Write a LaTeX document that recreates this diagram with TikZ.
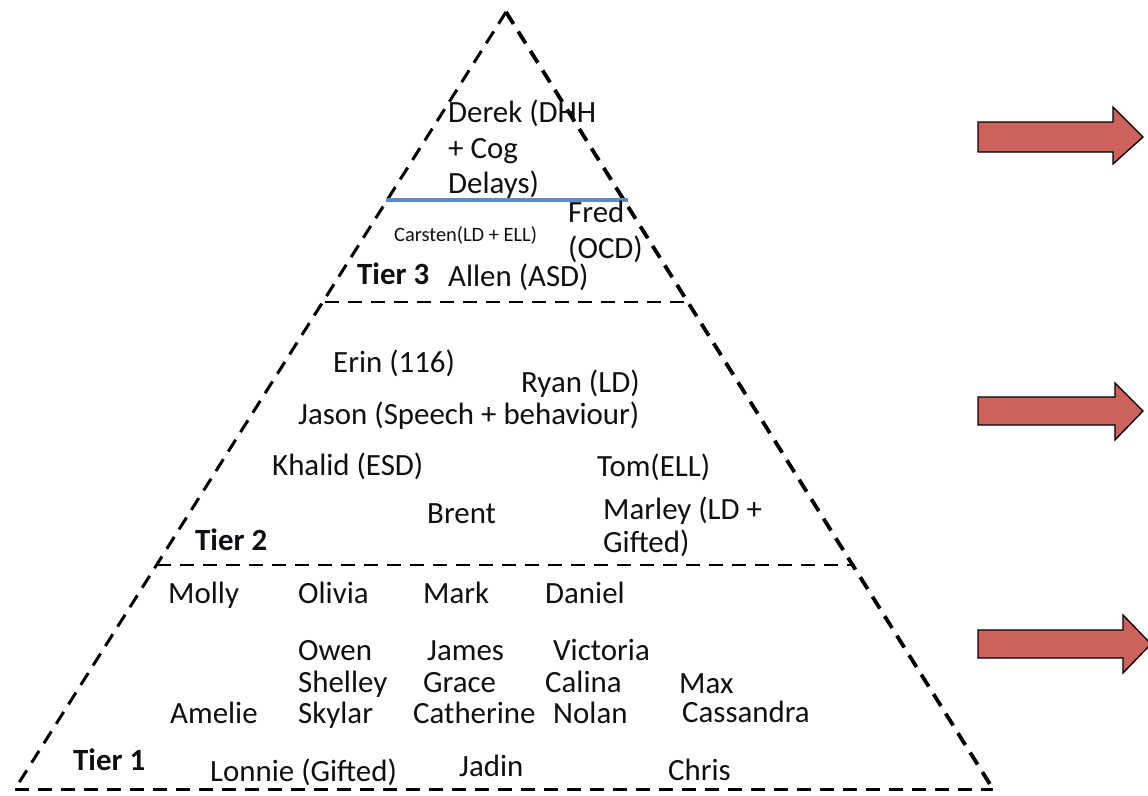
\documentclass[tikz,border=0pt]{standalone}
\usepackage{fontspec}
\setmainfont{Carlito}
\definecolor{arrowred}{RGB}{205,98,92}
\definecolor{splitblue}{RGB}{91,141,196}
\definecolor{ink}{RGB}{15,15,20}
\begin{document}
\begin{tikzpicture}[x=1bp,y=-1bp,
  pupil/.style={anchor=base west,inner sep=0pt,text=ink,font=\fontsize{31}{37}\selectfont},
  pupilsmall/.style={anchor=base west,inner sep=0pt,text=ink,font=\fontsize{20.5}{24}\selectfont},
  tierlabel/.style={anchor=base west,inner sep=0pt,text=ink,font=\fontsize{31}{37}\selectfont\bfseries},
  pyredge/.style={line width=3bp,dash pattern=on 14bp off 9bp},
  redarrow/.style={fill=arrowred,draw=black,line width=1.3bp,line join=miter}]
\useasboundingbox (0,0) rectangle (1148,796);
\clip (0,0) rectangle (1148,796);

% pyramid outline and tier dividers
\coordinate (apex) at (506,12);
\coordinate (bl) at (15,789);
\coordinate (br) at (993,789);
\draw[pyredge] (apex) -- (bl);
\draw[pyredge,line width=3.8bp] (apex) -- (br);
\draw[pyredge] (bl) -- (br);
\coordinate (t3l) at (325,302);
\coordinate (t3r) at (688,302);
\draw[pyredge,line width=2.8bp] (t3l) -- (t3r);
\coordinate (t2l) at (157,565);
\coordinate (t2r) at (855,565);
\draw[pyredge,line width=2.8bp] (t2l) -- (t2r);
\coordinate (bll) at (386,200);
\coordinate (blr) at (628,200);
\draw[splitblue,line width=3.2bp] (bll) -- (blr);

% arrows on the right
\draw[redarrow] (978,122) -- (1113,122) -- (1113,107) -- (1143,137) -- (1113,164) -- (1113,152) -- (978,152) -- cycle;
\draw[redarrow] (978,397) -- (1115,397) -- (1115,383) -- (1143,411) -- (1115,440) -- (1115,425) -- (978,425) -- cycle;
\draw[redarrow] (978,630) -- (1123,630) -- (1123,615) -- (1151,644) -- (1123,673) -- (1123,658) -- (978,658) -- cycle;

% Tier 3
\node[pupil] (derek1) at (448,122) {Derek (DHH};
\node[pupil] (derek2) at (448,158) {+ Cog};
\node[pupil] (derek3) at (448,193) {Delays)};
\node[pupil] (fred1) at (568,222) {Fred};
\node[pupil] (fred2) at (568,258) {(OCD)};
\node[pupilsmall] (carsten) at (394,241) {Carsten(LD + ELL)};
\node[tierlabel] (tier3) at (357,284) {Tier 3};
\node[pupil] (allen) at (448,286) {Allen (ASD)};

% Tier 2
\node[pupil] (erin) at (333,372) {Erin (116)};
\node[pupil] (ryan) at (521,392) {Ryan (LD)};
\node[pupil] (jason) at (298,424) {Jason (Speech + behaviour)};
\node[pupil] (khalid) at (272,475) {Khalid (ESD)};
\node[pupil] (tom) at (597,476) {Tom(ELL)};
\node[pupil] (brent) at (427,523) {Brent};
\node[pupil] (marley1) at (603,519) {Marley (LD +};
\node[pupil] (marley2) at (603,552) {Gifted)};
\node[tierlabel] (tier2) at (195,550) {Tier 2};

% Tier 1
\node[pupil] (molly) at (168,603) {Molly};
\node[pupil] (olivia) at (298,603) {Olivia};
\node[pupil] (mark) at (423,603) {Mark};
\node[pupil] (daniel) at (545,603) {Daniel};
\node[pupil] (owen) at (298,660) {Owen};
\node[pupil] (james) at (427,660) {James};
\node[pupil] (victoria) at (553,660) {Victoria};
\node[pupil] (shelley) at (298,692) {Shelley};
\node[pupil] (grace) at (423,692) {Grace};
\node[pupil] (calina) at (545,692) {Calina};
\node[pupil] (max) at (679,693) {Max};
\node[pupil] (amelie) at (170,723) {Amelie};
\node[pupil] (skylar) at (298,723) {Skylar};
\node[pupil] (catherine) at (413,723) {Catherine};
\node[pupil] (nolan) at (553,723) {Nolan};
\node[pupil] (cassandra) at (682,722) {Cassandra};
\node[tierlabel] (tier1) at (73,770) {Tier 1};
\node[pupil] (lonnie) at (210,781) {Lonnie (Gifted)};
\node[pupil] (jadin) at (459,776) {Jadin};
\node[pupil] (chris) at (668,780) {Chris};
\end{tikzpicture}
\end{document}
